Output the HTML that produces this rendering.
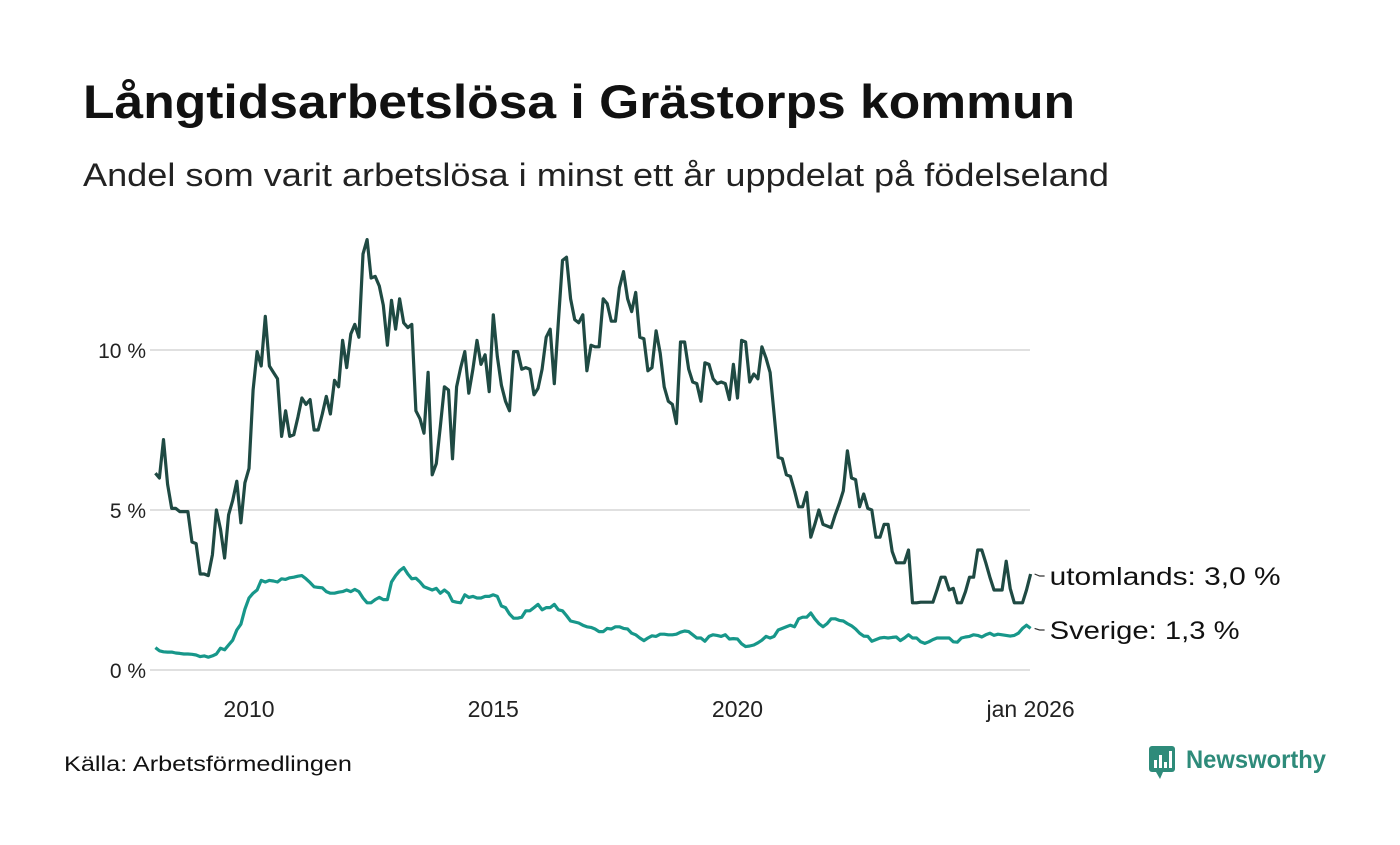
<!DOCTYPE html>
<html><head><meta charset="utf-8"><style>
body{margin:0;background:#fff;width:1400px;height:840px;overflow:hidden;font-family:"Liberation Sans",sans-serif}
svg text{font-family:"Liberation Sans","DejaVu Sans",sans-serif}
</style></head><body>
<svg id="chart" width="1400" height="840" xmlns="http://www.w3.org/2000/svg">
<text x="83" y="118" font-size="47" font-weight="bold" fill="#111" textLength="992" lengthAdjust="spacingAndGlyphs">Långtidsarbetslösa i Grästorps kommun</text>
<text x="83" y="186" font-size="32" fill="#222" textLength="1026" lengthAdjust="spacingAndGlyphs">Andel som varit arbetslösa i minst ett år uppdelat på födelseland</text>
<g id="grid"></g>
<g id="yaxis"></g>
<g id="xaxis"></g>
<g id="series"></g>
<g id="labels"></g>
<text x="64" y="771" font-size="21" fill="#111" textLength="288" lengthAdjust="spacingAndGlyphs">Källa: Arbetsförmedlingen</text>
<g>
<rect x="1149" y="746" width="26" height="26" rx="3" fill="#2e8b7a"/>
<polygon points="1156,772 1163,772 1160,779" fill="#2e8b7a"/>
<rect x="1154" y="760" width="3" height="8" fill="#fff"/><rect x="1159" y="755" width="3" height="13" fill="#fff"/><rect x="1164" y="762" width="3" height="6" fill="#fff"/><rect x="1169" y="751" width="3" height="17" fill="#fff"/>
<text x="1186" y="768" font-size="25" font-weight="bold" fill="#2e8b7a" textLength="140" lengthAdjust="spacingAndGlyphs">Newsworthy</text>
</g>
</svg>
<script>
const yTicks=[0,5,10];
const yTickLabels=["0 %","5 %","10 %"];
const xTicks=[2010,2015,2020,2026];
const xTickLabels=["2010","2015","2020","jan 2026"];
const startYear=2008, startMonth=2;
const seriesNames=["utomlands","Sverige"];
const utomlands=[6.15,6.0,7.2,5.8,5.05,5.05,4.95,4.95,4.95,4.0,3.95,3.0,3.0,2.95,3.6,5.0,4.4,3.5,4.85,5.3,5.9,4.6,5.85,6.3,8.75,9.95,9.5,11.05,9.5,9.3,9.1,7.3,8.1,7.3,7.35,7.9,8.5,8.3,8.45,7.5,7.5,8.0,8.55,8.0,9.05,8.85,10.3,9.45,10.5,10.8,10.4,13.0,13.45,12.25,12.3,12.0,11.4,10.15,11.55,10.65,11.6,10.85,10.7,10.8,8.1,7.85,7.4,9.3,6.1,6.45,7.6,8.85,8.75,6.6,8.85,9.45,9.95,8.65,9.4,10.3,9.55,9.85,8.7,11.1,9.8,8.9,8.4,8.1,9.95,9.95,9.4,9.45,9.4,8.6,8.8,9.4,10.4,10.65,8.95,10.9,12.8,12.9,11.6,10.95,10.85,11.1,9.35,10.15,10.1,10.1,11.6,11.45,10.9,10.9,11.95,12.45,11.6,11.2,11.8,10.4,10.35,9.35,9.45,10.6,9.9,8.85,8.4,8.3,7.7,10.25,10.25,9.4,9.0,8.95,8.4,9.6,9.55,9.1,8.95,9.0,8.95,8.45,9.55,8.5,10.3,10.25,9.0,9.25,9.1,10.1,9.75,9.3,8.0,6.65,6.6,6.1,6.05,5.6,5.1,5.1,5.55,4.15,4.55,5.0,4.55,4.5,4.45,4.85,5.2,5.6,6.85,6.0,5.95,5.1,5.5,5.05,5.0,4.15,4.15,4.55,4.55,3.7,3.35,3.35,3.35,3.75,2.1,2.1,2.12,2.12,2.12,2.12,2.5,2.9,2.9,2.5,2.55,2.1,2.1,2.45,2.9,2.9,3.75,3.75,3.35,2.9,2.5,2.5,2.5,3.4,2.55,2.1,2.1,2.1,2.5,3.0];
const sverige=[0.7,0.6,0.57,0.56,0.56,0.53,0.52,0.5,0.5,0.49,0.47,0.42,0.44,0.4,0.44,0.5,0.68,0.63,0.78,0.93,1.25,1.43,1.9,2.25,2.4,2.5,2.8,2.75,2.8,2.78,2.75,2.85,2.83,2.88,2.9,2.93,2.95,2.85,2.73,2.6,2.58,2.57,2.45,2.4,2.4,2.43,2.45,2.5,2.45,2.52,2.45,2.25,2.1,2.1,2.2,2.27,2.2,2.2,2.75,2.95,3.1,3.2,3.0,2.85,2.87,2.75,2.6,2.55,2.5,2.55,2.4,2.5,2.4,2.15,2.12,2.1,2.35,2.27,2.3,2.25,2.25,2.3,2.3,2.35,2.3,2.0,1.95,1.75,1.62,1.62,1.65,1.85,1.85,1.95,2.05,1.88,1.95,1.95,2.05,1.88,1.85,1.7,1.53,1.5,1.47,1.4,1.35,1.33,1.28,1.2,1.2,1.3,1.28,1.35,1.35,1.3,1.28,1.15,1.1,1.0,0.92,1.0,1.07,1.05,1.12,1.12,1.1,1.1,1.12,1.18,1.22,1.2,1.1,1.0,1.0,0.9,1.05,1.1,1.08,1.05,1.1,0.97,0.98,0.97,0.82,0.73,0.75,0.78,0.85,0.93,1.05,1.0,1.05,1.25,1.3,1.35,1.4,1.35,1.6,1.65,1.65,1.78,1.6,1.45,1.35,1.45,1.6,1.6,1.55,1.53,1.45,1.38,1.28,1.15,1.06,1.05,0.9,0.95,1.0,1.02,1.0,1.02,1.03,0.92,1.0,1.1,1.0,1.0,0.88,0.83,0.88,0.95,1.0,1.0,1.0,1.0,0.88,0.87,1.0,1.03,1.05,1.1,1.08,1.03,1.1,1.15,1.08,1.12,1.1,1.08,1.06,1.08,1.15,1.3,1.4,1.3];

const NS="http://www.w3.org/2000/svg";
const x0=249, pxPerYear=48.85;
function xScale(yearFrac){return x0+(yearFrac-2010)*pxPerYear;}
function yScale(v){return 670-v*32;}
function idxYear(i){return startYear+(startMonth-1+i)/12;}
function mk(tag,attrs,parent){const e=document.createElementNS(NS,tag);for(const k in attrs)e.setAttribute(k,attrs[k]);parent.appendChild(e);return e;}

const grid=document.getElementById('grid'),yax=document.getElementById('yaxis'),xax=document.getElementById('xaxis');
yTicks.forEach((t,i)=>{
  const l=mk('line',{x1:150,x2:1030,y1:yScale(t),y2:yScale(t),stroke:'#e0e0e0','stroke-width':2},grid);
  
  
  const tx=mk('text',{x:146,y:yScale(t)+8,'text-anchor':'end','font-size':21,fill:'#222'},yax);
  tx.textContent=yTickLabels[i];
  
  
});
xTicks.forEach((t,i)=>{
  const tx=mk('text',{x:xScale(t),y:717,'text-anchor':'middle','font-size':23,fill:'#222'},xax);
  tx.textContent=xTickLabels[i];
  
  
});
const ser=document.getElementById('series');
function drawLine(vals,color,name){
  const d=vals.map((v,i)=>(i?'L':'M')+xScale(idxYear(i)).toFixed(1)+','+yScale(v).toFixed(1)).join('');
  const p=mk('path',{d:d,fill:'none',stroke:color,'stroke-width':3.2,'stroke-linejoin':'round'},ser);
  
  
}
drawLine(sverige,'#17978a','line-sverige');
drawLine(utomlands,'#1f4a43','line-utomlands');

const lab=document.getElementById('labels');
function endLabel(vals,txt,ty,name,len){
  const last=vals[vals.length-1];
  const lx=xScale(idxYear(vals.length-1));
  mk('path',{d:`M${lx+4},${yScale(last)}L${lx+9},${ty-1}L${lx+14},${ty-1}`,fill:'none',stroke:'#333','stroke-width':1.2},lab);
  const t=mk('text',{x:lx+19,y:ty+8,'font-size':25,fill:'#111',textLength:len,lengthAdjust:'spacingAndGlyphs'},lab);
  t.textContent=txt+': '+last.toFixed(1).replace('.',',')+' %';
  
  
}
endLabel(utomlands,seriesNames[0],577,'label-utomlands',231);
endLabel(sverige,seriesNames[1],631,'label-sverige',190);
</script>
</body></html>
